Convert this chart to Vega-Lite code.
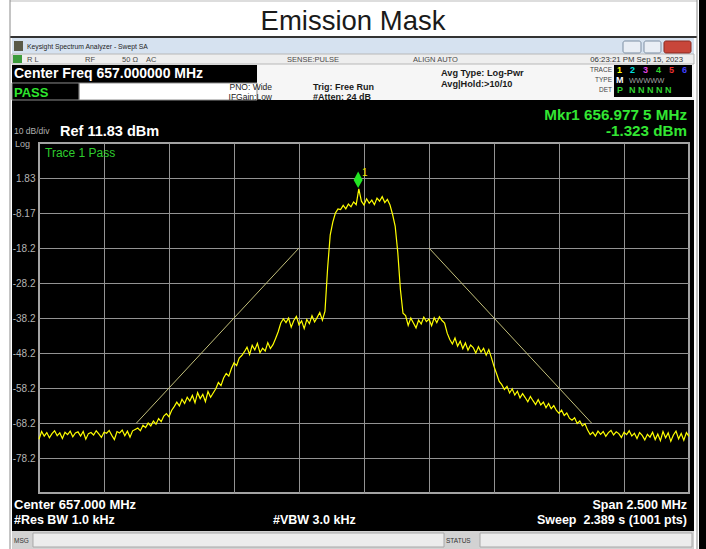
{
  "$schema": "https://vega.github.io/schema/vega-lite/v6.json",
  "width": 650,
  "height": 350,
  "autosize": {"type": "none"},
  "padding": {"left": 39, "top": 143, "right": 17, "bottom": 56},
  "background": "#000000",
  "config": {"view": {"stroke": "#a3a3a3", "strokeWidth": 2}, "text": {"font": "Liberation Sans", "baseline": "alphabetic"}},
  "datasets": {
    "trace": [
      {"f":655.75,"p":-72.8},{"f":655.76,"p":-70.6},{"f":655.77,"p":-71.9},{"f":655.78,"p":-70.9},{"f":655.79,"p":-72.4},
      {"f":655.80,"p":-71.2},{"f":655.81,"p":-70.4},{"f":655.82,"p":-71.8},{"f":655.83,"p":-71.0},{"f":655.84,"p":-72.6},
      {"f":655.85,"p":-70.8},{"f":655.86,"p":-71.5},{"f":655.87,"p":-70.5},{"f":655.88,"p":-72.1},{"f":655.89,"p":-71.0},
      {"f":655.90,"p":-70.7},{"f":655.91,"p":-71.9},{"f":655.92,"p":-70.6},{"f":655.93,"p":-72.8},{"f":655.94,"p":-71.2},
      {"f":655.95,"p":-70.9},{"f":655.96,"p":-71.6},{"f":655.97,"p":-70.4},{"f":655.98,"p":-71.3},{"f":655.99,"p":-72.3},
      {"f":656.00,"p":-70.8},{"f":656.01,"p":-71.1},{"f":656.02,"p":-70.3},{"f":656.03,"p":-71.7},{"f":656.04,"p":-72.9},
      {"f":656.05,"p":-70.6},{"f":656.06,"p":-71.0},{"f":656.07,"p":-70.2},{"f":656.08,"p":-71.8},{"f":656.09,"p":-70.5},
      {"f":656.10,"p":-72.2},{"f":656.11,"p":-70.4},{"f":656.12,"p":-70.0},{"f":656.13,"p":-69.6},{"f":656.14,"p":-70.4},
      {"f":656.15,"p":-68.8},{"f":656.16,"p":-69.5},{"f":656.17,"p":-68.2},{"f":656.18,"p":-69.0},{"f":656.19,"p":-67.6},
      {"f":656.20,"p":-68.5},{"f":656.21,"p":-66.9},{"f":656.22,"p":-67.8},{"f":656.23,"p":-66.2},{"f":656.24,"p":-65.5},
      {"f":656.25,"p":-66.4},{"f":656.26,"p":-64.6},{"f":656.27,"p":-63.5},{"f":656.28,"p":-62.2},{"f":656.29,"p":-63.3},
      {"f":656.30,"p":-61.4},{"f":656.31,"p":-62.6},{"f":656.32,"p":-60.8},{"f":656.33,"p":-61.9},{"f":656.34,"p":-60.3},
      {"f":656.35,"p":-62.4},{"f":656.36,"p":-59.5},{"f":656.37,"p":-61.2},{"f":656.38,"p":-60.0},{"f":656.39,"p":-62.1},
      {"f":656.40,"p":-59.2},{"f":656.41,"p":-60.8},{"f":656.42,"p":-59.6},{"f":656.43,"p":-58.4},{"f":656.44,"p":-56.6},
      {"f":656.45,"p":-57.5},{"f":656.46,"p":-55.3},{"f":656.47,"p":-54.0},{"f":656.48,"p":-54.8},{"f":656.49,"p":-52.6},
      {"f":656.50,"p":-51.0},{"f":656.51,"p":-51.8},{"f":656.52,"p":-49.6},{"f":656.53,"p":-48.9},{"f":656.54,"p":-47.8},
      {"f":656.55,"p":-46.5},{"f":656.56,"p":-48.6},{"f":656.57,"p":-46.0},{"f":656.58,"p":-47.3},{"f":656.59,"p":-45.4},
      {"f":656.60,"p":-48.1},{"f":656.61,"p":-46.8},{"f":656.62,"p":-47.6},{"f":656.63,"p":-45.2},{"f":656.64,"p":-46.9},
      {"f":656.65,"p":-45.8},{"f":656.66,"p":-44.0},{"f":656.67,"p":-42.1},{"f":656.68,"p":-39.6},{"f":656.69,"p":-38.4},
      {"f":656.70,"p":-39.5},{"f":656.71,"p":-38.2},{"f":656.72,"p":-40.8},{"f":656.73,"p":-38.9},{"f":656.74,"p":-37.7},
      {"f":656.75,"p":-40.1},{"f":656.76,"p":-39.0},{"f":656.77,"p":-41.2},{"f":656.78,"p":-38.6},{"f":656.79,"p":-39.8},
      {"f":656.80,"p":-37.5},{"f":656.81,"p":-39.3},{"f":656.82,"p":-38.0},{"f":656.83,"p":-36.6},{"f":656.84,"p":-38.8},
      {"f":656.85,"p":-36.2},{"f":656.86,"p":-24.0},{"f":656.87,"p":-14.5},{"f":656.88,"p":-10.8},{"f":656.89,"p":-8.2},
      {"f":656.90,"p":-7.0},{"f":656.91,"p":-7.2},{"f":656.92,"p":-6.0},{"f":656.93,"p":-7.0},{"f":656.94,"p":-5.6},
      {"f":656.95,"p":-6.4},{"f":656.96,"p":-5.0},{"f":656.97,"p":-5.8},{"f":656.98,"p":-1.3},{"f":656.99,"p":-4.8},
      {"f":657.00,"p":-5.9},{"f":657.01,"p":-4.1},{"f":657.02,"p":-5.4},{"f":657.03,"p":-4.5},{"f":657.04,"p":-5.8},
      {"f":657.05,"p":-3.9},{"f":657.06,"p":-4.8},{"f":657.07,"p":-3.5},{"f":657.08,"p":-5.2},{"f":657.09,"p":-4.3},
      {"f":657.10,"p":-5.9},{"f":657.11,"p":-8.6},{"f":657.12,"p":-12.0},{"f":657.13,"p":-19.5},{"f":657.14,"p":-30.0},
      {"f":657.15,"p":-36.8},{"f":657.16,"p":-37.5},{"f":657.17,"p":-40.3},{"f":657.18,"p":-38.2},{"f":657.19,"p":-39.6},
      {"f":657.20,"p":-41.0},{"f":657.21,"p":-38.8},{"f":657.22,"p":-39.9},{"f":657.23,"p":-37.9},{"f":657.24,"p":-39.2},
      {"f":657.25,"p":-38.5},{"f":657.26,"p":-40.4},{"f":657.27,"p":-38.1},{"f":657.28,"p":-39.5},{"f":657.29,"p":-37.8},
      {"f":657.30,"p":-38.9},{"f":657.31,"p":-39.6},{"f":657.32,"p":-42.5},{"f":657.33,"p":-44.3},{"f":657.34,"p":-45.6},
      {"f":657.35,"p":-43.9},{"f":657.36,"p":-46.2},{"f":657.37,"p":-44.8},{"f":657.38,"p":-46.9},{"f":657.39,"p":-45.3},
      {"f":657.40,"p":-47.4},{"f":657.41,"p":-45.9},{"f":657.42,"p":-46.6},{"f":657.43,"p":-48.2},{"f":657.44,"p":-46.4},
      {"f":657.45,"p":-47.9},{"f":657.46,"p":-46.8},{"f":657.47,"p":-48.8},{"f":657.48,"p":-47.2},{"f":657.49,"p":-49.5},
      {"f":657.50,"p":-52.0},{"f":657.51,"p":-54.1},{"f":657.52,"p":-56.3},{"f":657.53,"p":-57.2},{"f":657.54,"p":-58.6},
      {"f":657.55,"p":-57.7},{"f":657.56,"p":-59.6},{"f":657.57,"p":-58.4},{"f":657.58,"p":-60.2},{"f":657.59,"p":-59.1},
      {"f":657.60,"p":-61.0},{"f":657.61,"p":-59.8},{"f":657.62,"p":-60.9},{"f":657.63,"p":-62.1},{"f":657.64,"p":-60.6},
      {"f":657.65,"p":-61.8},{"f":657.66,"p":-62.9},{"f":657.67,"p":-61.5},{"f":657.68,"p":-63.0},{"f":657.69,"p":-62.2},
      {"f":657.70,"p":-63.8},{"f":657.71,"p":-62.6},{"f":657.72,"p":-64.1},{"f":657.73,"p":-63.2},{"f":657.74,"p":-64.6},
      {"f":657.75,"p":-65.4},{"f":657.76,"p":-64.5},{"f":657.77,"p":-66.0},{"f":657.78,"p":-65.3},{"f":657.79,"p":-66.8},
      {"f":657.80,"p":-67.4},{"f":657.81,"p":-66.7},{"f":657.82,"p":-68.3},{"f":657.83,"p":-67.6},{"f":657.84,"p":-69.0},
      {"f":657.85,"p":-68.4},{"f":657.86,"p":-70.2},{"f":657.87,"p":-71.5},{"f":657.88,"p":-70.8},{"f":657.89,"p":-71.9},
      {"f":657.90,"p":-70.5},{"f":657.91,"p":-71.4},{"f":657.92,"p":-70.6},{"f":657.93,"p":-72.0},{"f":657.94,"p":-70.9},
      {"f":657.95,"p":-70.3},{"f":657.96,"p":-71.6},{"f":657.97,"p":-70.7},{"f":657.98,"p":-71.2},{"f":657.99,"p":-72.3},
      {"f":658.00,"p":-70.8},{"f":658.01,"p":-71.5},{"f":658.02,"p":-70.4},{"f":658.03,"p":-71.9},{"f":658.04,"p":-71.1},
      {"f":658.05,"p":-72.6},{"f":658.06,"p":-70.9},{"f":658.07,"p":-71.7},{"f":658.08,"p":-73.0},{"f":658.09,"p":-71.4},
      {"f":658.10,"p":-72.2},{"f":658.11,"p":-70.8},{"f":658.12,"p":-72.9},{"f":658.13,"p":-71.3},{"f":658.14,"p":-73.2},
      {"f":658.15,"p":-70.6},{"f":658.16,"p":-72.4},{"f":658.17,"p":-71.0},{"f":658.18,"p":-73.4},{"f":658.19,"p":-71.6},
      {"f":658.20,"p":-70.5},{"f":658.21,"p":-72.7},{"f":658.22,"p":-71.2},{"f":658.23,"p":-73.1},{"f":658.24,"p":-70.9},
      {"f":658.25,"p":-72.0}
    ],
    "mask": [
      {"seg":"L","f":656.125,"p":-68.17},{"seg":"L","f":656.75,"p":-18.17},
      {"seg":"R","f":657.25,"p":-18.17},{"seg":"R","f":657.875,"p":-68.17}
    ],
    "marker": [{"f":656.9775,"p":-1.323}]
  },
  "layer": [
    {"data":{"values":[{}]},"mark":{"type":"rect","fill":"#ffffff","clip":false},"encoding":{"x":{"datum":655.6},"x2":{"datum":658.2885},"y":{"datum":52.69},"y2":{"datum":41.83}}},
    {"data":{"values":[{}]},"mark":{"type":"rect","fill":"#ffffff","clip":false},"encoding":{"x":{"datum":655.6},"x2":{"datum":655.6462},"y":{"datum":41.83},"y2":{"datum":-104.17}}},
    {"data":{"values":[{}]},"mark":{"type":"rect","fill":"#ffffff","clip":false},"encoding":{"x":{"datum":658.2692},"x2":{"datum":658.2885},"y":{"datum":41.83},"y2":{"datum":-104.17}}},
    {"data":{"values":[{}]},"mark":{"type":"rect","fill":"#f6f6f6","clip":false},"encoding":{"x":{"datum":655.6462},"x2":{"datum":658.2692},"y":{"datum":41.83},"y2":{"datum":24.116}}},
    {"data":{"values":[{}]},"mark":{"type":"rect","fill":"#d6e2f0","clip":false},"encoding":{"x":{"datum":655.6462},"x2":{"datum":658.2692},"y":{"datum":41.83},"y2":{"datum":37.257}}},
    {"data":{"values":[{}]},"mark":{"type":"rect","fill":"#eeeeee","stroke":"#b8b8b8","strokeWidth":1,"clip":false},"encoding":{"x":{"datum":655.6462},"x2":{"datum":658.2692},"y":{"datum":37.257},"y2":{"datum":34.40}}},
    {"data":{"values":[{}]},"mark":{"type":"rect","fill":"#000000","clip":false},"encoding":{"x":{"datum":655.6462},"x2":{"datum":656.5885},"y":{"datum":34.116},"y2":{"datum":28.973}}},
    {"data":{"values":[{}]},"mark":{"type":"rect","fill":"#ffffff","stroke":"#8c8c8c","strokeWidth":1,"clip":false},"encoding":{"x":{"datum":655.9038},"x2":{"datum":656.5885},"y":{"datum":28.973},"y2":{"datum":24.116}}},
    {"data":{"values":[{}]},"mark":{"type":"rect","fill":"#000000","stroke":"#8c8c8c","strokeWidth":1,"clip":false},"encoding":{"x":{"datum":655.6462},"x2":{"datum":655.9038},"y":{"datum":28.973},"y2":{"datum":24.116}}},
    {"data":{"values":[{}]},"mark":{"type":"rect","fill":"#000000","clip":false},"encoding":{"x":{"datum":657.9615},"x2":{"datum":658.2615},"y":{"datum":34.116},"y2":{"datum":24.97}}},
    {"data":{"values":[{}]},"mark":{"type":"rect","fill":"#d2d2d2","clip":false},"encoding":{"x":{"datum":655.6462},"x2":{"datum":658.2692},"y":{"datum":-99.03},"y2":{"datum":-104.17}}},
    {"data":{"values":[{}]},"mark":{"type":"rect","fill":"#ececec","stroke":"#a8a8a8","strokeWidth":1,"clip":false},"encoding":{"x":{"datum":655.7269},"x2":{"datum":657.3077},"y":{"datum":-99.6},"y2":{"datum":-103.6}}},
    {"data":{"values":[{}]},"mark":{"type":"rect","fill":"#ececec","stroke":"#a8a8a8","strokeWidth":1,"clip":false},"encoding":{"x":{"datum":657.4462},"x2":{"datum":658.2615},"y":{"datum":-99.6},"y2":{"datum":-103.6}}},
    {"data":{"values":[{}]},"mark":{"type":"rect","fill":"#e9eef5","stroke":"#7d8ea3","strokeWidth":1,"cornerRadius":2,"clip":false},"encoding":{"x":{"datum":657.9962},"x2":{"datum":658.0654},"y":{"datum":40.97},"y2":{"datum":37.546}}},
    {"data":{"values":[{}]},"mark":{"type":"rect","fill":"#e9eef5","stroke":"#7d8ea3","strokeWidth":1,"cornerRadius":2,"clip":false},"encoding":{"x":{"datum":658.0769},"x2":{"datum":658.1423},"y":{"datum":40.97},"y2":{"datum":37.546}}},
    {"data":{"values":[{}]},"mark":{"type":"rect","fill":"#c8463a","stroke":"#8a2a20","strokeWidth":1,"cornerRadius":2,"clip":false},"encoding":{"x":{"datum":658.1538},"x2":{"datum":658.2577},"y":{"datum":40.97},"y2":{"datum":37.546}}},
    {"data":{"values":[{}]},"mark":{"type":"rect","fill":"#5a5a48","clip":false},"encoding":{"x":{"datum":655.6538},"x2":{"datum":655.6885},"y":{"datum":40.97},"y2":{"datum":38.116}}},
    {"data":{"values":[{}]},"mark":{"type":"rect","fill":"#3c9c3c","clip":false},"encoding":{"x":{"datum":655.65},"x2":{"datum":655.6846},"y":{"datum":36.97},"y2":{"datum":34.69}}},
    {"data":{"values":[{}]},"mark":{"type":"rule","color":"#333333","strokeWidth":2,"clip":false},"encoding":{"x":{"datum":655.6385},"x2":{"datum":658.2808},"y":{"datum":42.116}}},
    {"data":{"values":[{}]},"mark":{"type":"rule","color":"#bbbbbb","strokeWidth":1,"clip":false},"encoding":{"x":{"datum":655.6385},"x2":{"datum":658.2808},"y":{"datum":52.40}}},
    {"data":{"values":[{}]},"mark":{"type":"rule","color":"#8a8a8a","strokeWidth":1,"clip":false},"encoding":{"x":{"datum":655.6385},"y":{"datum":52.69},"y2":{"datum":-104.17}}},
    {"data":{"values":[{}]},"mark":{"type":"rule","color":"#8a8a8a","strokeWidth":1,"clip":false},"encoding":{"x":{"datum":658.2808},"y":{"datum":52.69},"y2":{"datum":-104.17}}},
    {
      "data": {"name": "mask"},
      "mark": {"type": "line", "color": "#c2bf7a", "strokeWidth": 1, "clip": false},
      "encoding": {
        "x": {"field": "f", "type": "quantitative", "scale": {"domain": [655.75, 658.25], "nice": false, "zero": false}},
        "y": {"field": "p", "type": "quantitative", "scale": {"domain": [-88.17, 11.83], "nice": false, "zero": false}},
        "detail": {"field": "seg", "type": "nominal"}
      }
    },
    {
      "data": {"name": "trace"},
      "mark": {"type": "line", "color": "#ffff00", "strokeWidth": 1.2, "clip": false},
      "encoding": {
        "x": {"field": "f", "type": "quantitative", "scale": {"domain": [655.75, 658.25], "nice": false, "zero": false},
          "axis": {"title": null, "values": [656, 656.25, 656.5, 656.75, 657, 657.25, 657.5, 657.75, 658], "labels": false, "ticks": false, "domain": false, "grid": true, "gridColor": "#939393", "gridWidth": 1}},
        "y": {"field": "p", "type": "quantitative", "scale": {"domain": [-88.17, 11.83], "nice": false, "zero": false},
          "axis": {"title": null, "values": [1.83, -8.17, -18.17, -28.17, -38.17, -48.17, -58.17, -68.17, -78.17], "ticks": false, "domain": false, "grid": true, "gridColor": "#939393", "gridWidth": 1, "labelColor": "#b4b4b4", "labelFont": "Liberation Sans", "labelFontSize": 10, "labelPadding": 4, "labelExpr": "replace(abs(datum.value) < 10 ? format(datum.value, '.2f') : format(datum.value, '.1f'), '\u2212', '-')"}}
      }
    },
    {
      "data": {"name": "marker"},
      "mark": {"type": "point", "shape": "M0,-1.75L0.45,-0.9L0,-0.1L-0.45,-0.9Z", "size": 400, "filled": true, "color": "#22e622", "opacity": 1, "strokeWidth": 0, "clip": false},
      "encoding": {"x": {"field": "f", "type": "quantitative"}, "y": {"field": "p", "type": "quantitative"}}
    },
    {"data":{"values":[{}]},"mark":{"type":"text","text":"Emission Mask","align":"center","fontSize":27.5,"color":"#1a1a1a","clip":false},"encoding":{"x":{"datum":656.9577},"y":{"datum":44.116}}},
    {"data":{"values":[{}]},"mark":{"type":"text","text":"Keysight Spectrum Analyzer - Swept SA","align":"left","fontSize":6.8,"color":"#1e1e1e","clip":false},"encoding":{"x":{"datum":655.7038},"y":{"datum":38.60}}},
    {"data":{"values":[{}]},"mark":{"type":"text","text":"R L","align":"left","fontSize":7.5,"color":"#4a4a4a","clip":false},"encoding":{"x":{"datum":655.7038},"y":{"datum":34.97}}},
    {"data":{"values":[{}]},"mark":{"type":"text","text":"RF","align":"left","fontSize":7.5,"color":"#4a4a4a","clip":false},"encoding":{"x":{"datum":655.9269},"y":{"datum":34.97}}},
    {"data":{"values":[{}]},"mark":{"type":"text","text":"50 Ω","align":"left","fontSize":7.5,"color":"#4a4a4a","clip":false},"encoding":{"x":{"datum":656.0692},"y":{"datum":34.97}}},
    {"data":{"values":[{}]},"mark":{"type":"text","text":"AC","align":"left","fontSize":7.5,"color":"#4a4a4a","clip":false},"encoding":{"x":{"datum":656.1615},"y":{"datum":34.97}}},
    {"data":{"values":[{}]},"mark":{"type":"text","text":"SENSE:PULSE","align":"left","fontSize":7.5,"color":"#4a4a4a","clip":false},"encoding":{"x":{"datum":656.7038},"y":{"datum":34.97}}},
    {"data":{"values":[{}]},"mark":{"type":"text","text":"ALIGN AUTO","align":"left","fontSize":7.5,"color":"#4a4a4a","clip":false},"encoding":{"x":{"datum":657.1885},"y":{"datum":34.97}}},
    {"data":{"values":[{}]},"mark":{"type":"text","text":"06:23:21 PM Sep 15, 2023","align":"right","fontSize":7.8,"color":"#333333","clip":false},"encoding":{"x":{"datum":658.2269},"y":{"datum":34.97}}},
    {"data":{"values":[{}]},"mark":{"type":"text","text":"Center Freq 657.000000 MHz","align":"left","fontSize":14,"fontWeight":"bold","color":"#ffffff","clip":false},"encoding":{"x":{"datum":655.6538},"y":{"datum":30.40}}},
    {"data":{"values":[{}]},"mark":{"type":"text","text":"PASS","align":"left","fontSize":13,"fontWeight":"bold","color":"#2ee62e","clip":false},"encoding":{"x":{"datum":655.6538},"y":{"datum":24.97}}},
    {"data":{"values":[{}]},"mark":{"type":"text","text":"PNO: Wide","align":"right","fontSize":8.5,"color":"#222222","clip":false},"encoding":{"x":{"datum":656.6462},"y":{"datum":26.97}}},
    {"data":{"values":[{}]},"mark":{"type":"text","text":"IFGain:Low","align":"right","fontSize":8.5,"color":"#222222","clip":false},"encoding":{"x":{"datum":656.6462},"y":{"datum":24.116}}},
    {"data":{"values":[{}]},"mark":{"type":"text","text":"Trig: Free Run","align":"left","fontSize":9,"fontWeight":"bold","color":"#1a1a1a","clip":false},"encoding":{"x":{"datum":656.8038},"y":{"datum":26.97}}},
    {"data":{"values":[{}]},"mark":{"type":"text","text":"#Atten: 24 dB","align":"left","fontSize":9,"fontWeight":"bold","color":"#1a1a1a","clip":false},"encoding":{"x":{"datum":656.8038},"y":{"datum":24.116}}},
    {"data":{"values":[{}]},"mark":{"type":"text","text":"Avg Type: Log-Pwr","align":"left","fontSize":9.2,"fontWeight":"bold","color":"#1a1a1a","clip":false},"encoding":{"x":{"datum":657.2962},"y":{"datum":30.97}}},
    {"data":{"values":[{}]},"mark":{"type":"text","text":"Avg|Hold:>10/10","align":"left","fontSize":9.2,"fontWeight":"bold","color":"#1a1a1a","clip":false},"encoding":{"x":{"datum":657.2962},"y":{"datum":27.83}}},
    {"data":{"values":[{}]},"mark":{"type":"text","text":"TRACE","align":"right","fontSize":6.5,"color":"#444444","clip":false},"encoding":{"x":{"datum":657.9538},"y":{"datum":32.116}}},
    {"data":{"values":[{}]},"mark":{"type":"text","text":"TYPE","align":"right","fontSize":6.5,"color":"#444444","clip":false},"encoding":{"x":{"datum":657.9538},"y":{"datum":29.26}}},
    {"data":{"values":[{}]},"mark":{"type":"text","text":"DET","align":"right","fontSize":6.5,"color":"#444444","clip":false},"encoding":{"x":{"datum":657.9538},"y":{"datum":26.40}}},
    {"data":{"values":[{}]},"mark":{"type":"text","text":"1","align":"left","fontSize":9,"fontWeight":"bold","color":"#ffff00","clip":false},"encoding":{"x":{"datum":657.9731},"y":{"datum":31.83}}},
    {"data":{"values":[{}]},"mark":{"type":"text","text":"2","align":"left","fontSize":9,"fontWeight":"bold","color":"#00e0e0","clip":false},"encoding":{"x":{"datum":658.0231},"y":{"datum":31.83}}},
    {"data":{"values":[{}]},"mark":{"type":"text","text":"3","align":"left","fontSize":9,"fontWeight":"bold","color":"#e040e0","clip":false},"encoding":{"x":{"datum":658.0731},"y":{"datum":31.83}}},
    {"data":{"values":[{}]},"mark":{"type":"text","text":"4","align":"left","fontSize":9,"fontWeight":"bold","color":"#30d030","clip":false},"encoding":{"x":{"datum":658.1231},"y":{"datum":31.83}}},
    {"data":{"values":[{}]},"mark":{"type":"text","text":"5","align":"left","fontSize":9,"fontWeight":"bold","color":"#f03030","clip":false},"encoding":{"x":{"datum":658.1731},"y":{"datum":31.83}}},
    {"data":{"values":[{}]},"mark":{"type":"text","text":"6","align":"left","fontSize":9,"fontWeight":"bold","color":"#4040ff","clip":false},"encoding":{"x":{"datum":658.2231},"y":{"datum":31.83}}},
    {"data":{"values":[{}]},"mark":{"type":"text","text":"M","align":"left","fontSize":9,"fontWeight":"bold","color":"#ffffff","clip":false},"encoding":{"x":{"datum":657.9692},"y":{"datum":28.97}}},
    {"data":{"values":[{}]},"mark":{"type":"text","text":"WWWWW","align":"left","fontSize":7.5,"color":"#a0a0a0","clip":false},"encoding":{"x":{"datum":658.0192},"y":{"datum":28.97}}},
    {"data":{"values":[{}]},"mark":{"type":"text","text":"P","align":"left","fontSize":9,"fontWeight":"bold","color":"#30d030","clip":false},"encoding":{"x":{"datum":657.9731},"y":{"datum":26.116}}},
    {"data":{"values":[{}]},"mark":{"type":"text","text":"N N N N N","align":"left","fontSize":9,"fontWeight":"bold","color":"#30d030","clip":false},"encoding":{"x":{"datum":658.0192},"y":{"datum":26.116}}},
    {"data":{"values":[{}]},"mark":{"type":"text","text":"Mkr1 656.977 5 MHz","align":"right","fontSize":15.2,"fontWeight":"bold","color":"#33e633","clip":false},"encoding":{"x":{"datum":658.2423},"y":{"datum":18.54}}},
    {"data":{"values":[{}]},"mark":{"type":"text","text":"-1.323 dBm","align":"right","fontSize":15.2,"fontWeight":"bold","color":"#33e633","clip":false},"encoding":{"x":{"datum":658.2423},"y":{"datum":13.83}}},
    {"data":{"values":[{}]},"mark":{"type":"text","text":"10 dB/div","align":"left","fontSize":8.5,"color":"#b0b0b0","clip":false},"encoding":{"x":{"datum":655.6538},"y":{"datum":14.40}}},
    {"data":{"values":[{}]},"mark":{"type":"text","text":"Ref 11.83 dBm","align":"left","fontSize":14.5,"fontWeight":"bold","color":"#ffffff","clip":false},"encoding":{"x":{"datum":655.8308},"y":{"datum":13.83}}},
    {"data":{"values":[{}]},"mark":{"type":"text","text":"Log","align":"left","fontSize":9,"color":"#b0b0b0","clip":false},"encoding":{"x":{"datum":655.6577},"y":{"datum":10.83}}},
    {"data":{"values":[{}]},"mark":{"type":"text","text":"Trace 1 Pass","align":"left","fontSize":12,"color":"#2ecc2e","clip":false},"encoding":{"x":{"datum":655.7731},"y":{"datum":7.83}}},
    {"data":{"values":[{}]},"mark":{"type":"text","text":"1","align":"left","fontSize":10,"color":"#e8e800","clip":false},"encoding":{"x":{"datum":656.9923},"y":{"datum":2.40}}},
    {"data":{"values":[{}]},"mark":{"type":"text","text":"Center 657.000 MHz","align":"left","fontSize":13,"fontWeight":"bold","color":"#ffffff","clip":false},"encoding":{"x":{"datum":655.6538},"y":{"datum":-92.74}}},
    {"data":{"values":[{}]},"mark":{"type":"text","text":"Span 2.500 MHz","align":"right","fontSize":12.5,"fontWeight":"bold","color":"#ffffff","clip":false},"encoding":{"x":{"datum":658.2423},"y":{"datum":-92.74}}},
    {"data":{"values":[{}]},"mark":{"type":"text","text":"#Res BW 1.0 kHz","align":"left","fontSize":12.5,"fontWeight":"bold","color":"#ffffff","clip":false},"encoding":{"x":{"datum":655.6538},"y":{"datum":-97.03}}},
    {"data":{"values":[{}]},"mark":{"type":"text","text":"#VBW 3.0 kHz","align":"left","fontSize":12.5,"fontWeight":"bold","color":"#ffffff","clip":false},"encoding":{"x":{"datum":656.65},"y":{"datum":-97.03}}},
    {"data":{"values":[{}]},"mark":{"type":"text","text":"Sweep\u00a0\u00a02.389 s (1001 pts)","align":"right","fontSize":12.5,"fontWeight":"bold","color":"#ffffff","clip":false},"encoding":{"x":{"datum":658.2423},"y":{"datum":-97.03}}},
    {"data":{"values":[{}]},"mark":{"type":"text","text":"MSG","align":"left","fontSize":6.5,"color":"#333333","clip":false},"encoding":{"x":{"datum":655.6538},"y":{"datum":-102.46}}},
    {"data":{"values":[{}]},"mark":{"type":"text","text":"STATUS","align":"left","fontSize":6.5,"color":"#333333","clip":false},"encoding":{"x":{"datum":657.3154},"y":{"datum":-102.46}}}
  ]
}
